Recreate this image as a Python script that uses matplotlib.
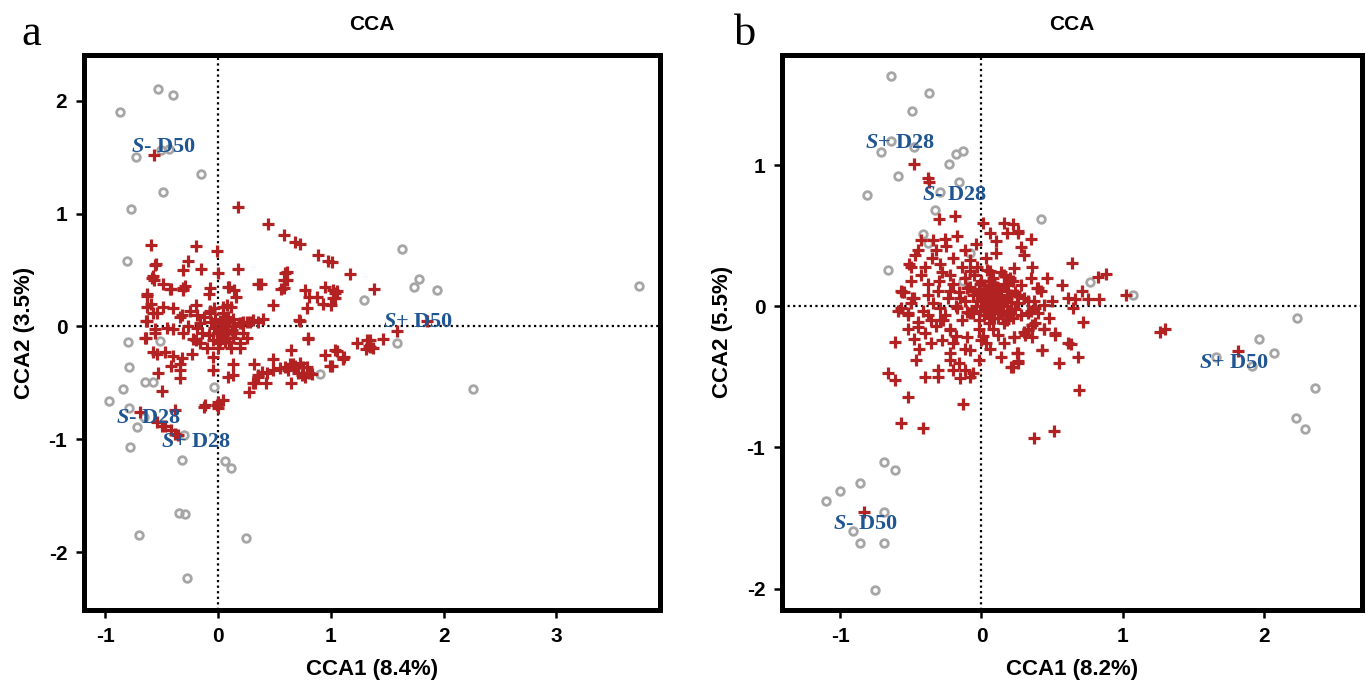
import matplotlib
matplotlib.use("Agg")
import matplotlib.pyplot as plt

plt.rcParams['font.family'] = ['Liberation Sans', 'DejaVu Sans']
plt.rcParams['mathtext.fontset'] = 'custom'
plt.rcParams['mathtext.bfit'] = 'Liberation Serif:italic:bold'
plt.rcParams['mathtext.bf'] = 'Liberation Serif:bold'
plt.rcParams['mathtext.rm'] = 'Liberation Serif'

# ---- panel a: site (gray circles) and species (red crosses) scores ----
a_sites_x = [-0.53, -0.40, -0.87, -0.73, -0.51, -0.44, -0.15, -0.49, -0.77, -0.81, 1.29,
             1.63, 1.78, 1.74, 1.94, 1.59, 2.26, 3.73, 0.90,
             -0.80, -0.52, -0.79, -0.65, -0.58, -0.84, -0.97, -0.79, -0.66, -0.72, -0.78,
             -0.30, -0.32, -0.04, 0.06, 0.11, -0.35, -0.29, -0.70, 0.25, -0.28]
a_sites_y = [2.10, 2.05, 1.90, 1.50, 1.56, 1.57, 1.35, 1.19, 1.04, 0.58, 0.23,
             0.69, 0.42, 0.35, 0.32, -0.15, -0.55, 0.36, -0.42,
             -0.14, -0.13, -0.36, -0.49, -0.49, -0.55, -0.66, -0.72, -0.80, -0.89, -1.07,
             -0.96, -1.18, -0.54, -1.19, -1.25, -1.65, -1.66, -1.85, -1.87, -2.23]

a_species = [
    (-0.57, 1.52), (0.18, 1.06), (0.44, 0.91), (0.58, 0.81), (0.68, 0.75), (0.73, 0.73),
    (0.89, 0.63), (0.97, 0.58), (1.17, 0.46), (1.38, 0.33),
    (-0.60, 0.72), (-0.20, 0.71), (-0.01, 0.67), (-0.55, 0.55), (-0.27, 0.58), (-0.31, 0.50),
    (-0.15, 0.51), (0.00, 0.47), (0.18, 0.51), (-0.59, 0.43), (-0.57, 0.41), (0.61, 0.48),
    (0.58, 0.41), (0.35, 0.38), (0.38, 0.38), (-0.49, 0.38), (-0.43, 0.33), (-0.29, 0.36),
    (-0.31, 0.32), (-0.07, 0.34), (-0.08, 0.29), (0.09, 0.35), (0.14, 0.32), (0.56, 0.33),
    (0.77, 0.32), (0.81, 0.26), (0.88, 0.26), (0.95, 0.35), (1.05, 0.31), (1.04, 0.25),
    (0.93, 0.20), (1.00, 0.19), (0.79, 0.16), (0.49, 0.19), (0.72, 0.06), (0.40, 0.07),
    (0.31, 0.06), (0.22, 0.04), (-0.63, 0.27), (-0.60, 0.20), (-0.54, 0.12), (-0.49, 0.17),
    (-0.40, 0.16), (-0.34, 0.08), (-0.25, 0.14), (-0.20, 0.19), (-0.13, 0.08), (-0.07, 0.12),
    (-0.04, 0.16), (0.04, 0.12), (0.08, 0.19), (0.13, 0.07), (0.02, 0.05), (-0.63, 0.05),
    (-0.56, 0.54), (-0.58, 0.45), (-0.42, 0.33), (-0.31, 0.34), (0.10, 0.35), (0.16, 0.26),
    (0.59, 0.47), (0.61, 0.41), (0.58, 0.34), (1.02, 0.32), (0.73, 0.05), (0.35, 0.04),
    (0.28, 0.04), (0.21, 0.03), (-0.63, 0.29), (-0.63, 0.17), (-0.58, 0.12), (-0.32, 0.10),
    (-0.19, 0.10), (-0.07, 0.14), (0.04, 0.17), (0.11, 0.17), (-0.64, 0.05), (-0.56, -0.02),
    (-0.45, -0.01), (-0.40, -0.02), (-0.27, 0.00), (-0.16, 0.03), (-0.04, -0.01), (0.04, -0.02),
    (-0.01, -0.06), (-0.05, -0.12), (0.02, -0.12), (0.08, -0.10), (0.13, -0.10), (0.19, -0.19),
    (0.26, -0.10), (0.11, -0.19), (0.00, -0.19), (-0.10, -0.19), (-0.16, -0.15), (-0.22, -0.11),
    (-0.31, -0.06), (-0.64, -0.10), (-0.58, -0.23), (-0.54, -0.24), (-0.47, -0.23), (-0.40, -0.26),
    (-0.32, -0.28), (-0.23, -0.24), (-0.42, -0.35), (-0.34, -0.33), (-0.34, -0.39), (-0.34, -0.46),
    (-0.53, -0.41), (-0.50, -0.57), (-0.05, -0.27), (-0.05, -0.39), (0.13, -0.33), (0.09, -0.45),
    (0.13, -0.43), (0.32, -0.33), (0.49, -0.29), (0.65, -0.21), (0.80, -0.10), (0.95, -0.25),
    (1.05, -0.22), (1.11, -0.28), (0.99, -0.35), (0.35, -0.43), (0.33, -0.50), (0.42, -0.50),
    (0.43, -0.41), (0.49, -0.39), (0.55, -0.37), (0.59, -0.36), (0.64, -0.33), (0.68, -0.35),
    (0.73, -0.32), (0.75, -0.36), (0.71, -0.41), (0.74, -0.43), (0.77, -0.45), (0.83, -0.42),
    (0.27, -0.58), (0.65, -0.50), (0.19, 0.03), (0.26, 0.04), (0.22, -0.06), (0.19, -0.15),
    (0.80, -0.11), (-0.65, -0.10), (-0.56, -0.06), (-0.20, -0.12), (-0.14, -0.06), (-0.19, -0.01),
    (0.39, -0.40), (0.62, -0.39), (0.66, -0.33), (0.79, -0.36), (0.81, -0.41), (0.35, -0.45),
    (0.31, -0.50), (1.23, -0.15), (1.32, -0.12), (1.35, -0.18), (1.59, -0.04), (1.46, -0.11),
    (1.35, -0.12), (1.34, -0.17), (1.37, -0.19), (1.31, -0.20), (1.04, -0.21), (1.12, -0.27),
    (1.11, -0.29), (1.01, -0.35), (1.85, 0.05), (-0.13, -0.71), (-0.01, -0.70), (0.04, -0.65),
    (0.00, -0.67), (0.00, -0.72), (-0.12, -0.70), (-0.69, -0.76), (-0.54, -0.85), (-0.50, -0.88),
    (-0.42, -0.92), (-0.38, -0.95), (-0.36, -0.96), (-0.38, -0.74), (-0.47, -0.88),
    (0.02, -0.04), (0.06, 0.00), (0.08, -0.05), (0.04, 0.03), (-0.02, 0.02), (0.10, 0.04),
    (0.12, -0.03), (0.06, -0.14), (-0.08, -0.08), (0.15, -0.06), (0.03, -0.10), (0.09, 0.08),
    (-0.03, 0.07), (1.01, 0.57), (1.04, 0.30), (1.02, 0.25),
    (0.05, -0.07), (0.10, -0.14), (0.01, -0.15), (0.07, 0.06), (-0.06, 0.04), (0.14, 0.00),
]

a_labels = [("$\\mathbfit{S}$- D50", -0.77, 1.59), ("$\\mathbfit{S}$+ D50", 1.46, 0.04),
            ("$\\mathbfit{S}$- D28", -0.91, -0.81), ("$\\mathbfit{S}$+ D28", -0.51, -1.02)]

# ---- panel b ----
b_sites_x = [-0.64, -0.37, -0.49, -0.64, -0.48, -0.71, -0.13, -0.18, -0.23, -0.59, -0.16,
             -0.81, -0.29, -0.33, -0.41, -0.38, -0.08, -0.66, -0.13, 0.42,
             0.77, 1.07, 2.23, 1.96, 2.07, 1.66, 1.91, 2.36, 2.22, 2.29,
             -0.69, -0.61, -0.86, -1.00, -1.10, -0.69, -0.91, -0.86, -0.69, -0.75]
b_sites_y = [1.63, 1.51, 1.38, 1.17, 1.13, 1.09, 1.10, 1.08, 1.01, 0.92, 0.88,
             0.79, 0.81, 0.68, 0.51, 0.45, 0.38, 0.26, 0.18, 0.62,
             0.17, 0.08, -0.08, -0.23, -0.33, -0.36, -0.42, -0.58, -0.79, -0.87,
             -1.10, -1.16, -1.25, -1.31, -1.38, -1.46, -1.59, -1.68, -1.68, -2.01]

b_species = [
    (-0.48, 1.01), (-0.38, 0.91), (-0.37, 0.88), (-0.30, 0.62), (-0.19, 0.64), (0.01, 0.59),
    (0.06, 0.52), (0.16, 0.59), (0.22, 0.58), (0.18, 0.52), (0.26, 0.52), (0.28, 0.42),
    (0.35, 0.48), (-0.34, 0.47), (-0.26, 0.48), (-0.17, 0.50), (-0.43, 0.47), (-0.45, 0.40),
    (-0.25, 0.43), (0.10, 0.38), (-0.51, 0.30), (-0.47, 0.36), (-0.35, 0.34), (-0.20, 0.34),
    (-0.08, 0.33), (0.03, 0.34), (-0.50, 0.28), (-0.43, 0.22), (-0.29, 0.30), (-0.28, 0.24),
    (-0.22, 0.22), (-0.08, 0.25), (-0.03, 0.28), (0.06, 0.25), (0.16, 0.22), (0.23, 0.27),
    (0.22, 0.18), (0.35, 0.20), (0.40, 0.13), (0.42, 0.11), (-0.50, 0.18), (-0.57, 0.11),
    (-0.55, 0.10), (-0.48, 0.06), (-0.38, 0.08), (-0.31, 0.11), (-0.22, 0.11), (-0.15, 0.06),
    (-0.10, 0.13), (-0.01, 0.16), (0.06, 0.18), (0.12, 0.13), (0.18, 0.15), (0.25, 0.08),
    (0.33, 0.04), (0.38, -0.01), (0.44, 0.01), (-0.57, -0.01), (-0.52, -0.05), (-0.41, -0.03),
    (-0.29, -0.01), (-0.17, -0.01), (-0.45, -0.11), (-0.36, -0.10), (-0.27, -0.10), (-0.08, -0.05),
    (-0.56, 0.10), (-0.49, 0.06), (-0.59, -0.03), (-0.52, -0.06), (-0.50, 0.02), (-0.38, -0.06),
    (-0.45, -0.15), (-0.52, -0.16), (-0.40, -0.19), (-0.29, -0.10), (-0.22, -0.17), (-0.18, -0.21),
    (-0.20, -0.26), (-0.08, -0.31), (-0.22, -0.33), (-0.22, -0.38), (-0.16, -0.40), (-0.20, -0.45),
    (-0.12, -0.45), (-0.15, -0.51), (-0.08, -0.50), (-0.06, -0.47), (-0.31, -0.45), (-0.31, -0.50),
    (-0.40, -0.50), (-0.61, -0.25), (-0.48, -0.23), (-0.66, -0.47), (-0.61, -0.52), (-0.52, -0.64),
    (-0.13, -0.69), (-0.57, -0.83), (-0.41, -0.86), (0.01, -0.21), (0.03, -0.26), (0.23, -0.22),
    (0.25, -0.33), (0.26, -0.39), (0.21, -0.43), (0.43, -0.31), (0.52, -0.19), (0.55, -0.40),
    (0.61, -0.26), (0.33, -0.16), (0.36, -0.22), (0.30, -0.18), (0.38, -0.12), (0.44, -0.16),
    (0.37, -0.01), (0.33, -0.05), (0.51, -0.88), (0.37, -0.93),
    (0.26, 0.53), (0.64, 0.31), (0.57, 0.15), (0.82, 0.21), (0.88, 0.23), (0.39, 0.13),
    (0.71, 0.11), (0.61, 0.06), (0.66, 0.05), (0.75, 0.05), (0.83, 0.05), (1.02, 0.08),
    (0.65, -0.01), (0.72, -0.11), (0.37, 0.04), (0.35, -0.03), (0.40, -0.05), (0.44, -0.16),
    (0.52, -0.20), (0.63, -0.27), (0.43, -0.31), (0.68, -0.36), (0.26, -0.33), (0.26, -0.40),
    (0.22, -0.43), (0.69, -0.59), (1.26, -0.18), (1.30, -0.16), (1.81, -0.32), (0.23, -0.22),
    (0.33, -0.17), (0.36, -0.13), (0.31, -0.20), (-0.83, -1.46),
    # dense core
    (0.00, 0.05), (0.05, 0.02), (0.10, 0.06), (0.15, 0.00), (0.08, -0.04), (0.02, -0.06),
    (-0.04, 0.00), (-0.06, 0.08), (0.03, 0.12), (0.12, 0.12), (0.18, 0.06), (0.20, -0.04),
    (0.12, -0.08), (0.05, -0.12), (-0.02, -0.10), (-0.10, -0.04), (-0.12, 0.04), (-0.08, 0.14),
    (0.00, 0.18), (0.08, 0.20), (0.16, 0.16), (0.24, 0.10), (0.26, 0.02), (0.22, -0.08),
    (0.16, -0.12), (0.08, -0.16), (-0.02, -0.16), (-0.14, -0.10), (-0.18, 0.00), (-0.16, 0.10),
    (-0.12, 0.20), (0.04, 0.26), (0.14, 0.24), (0.07, 0.08), (0.11, -0.02), (0.01, 0.00),
    (0.06, 0.04), (0.13, 0.03), (0.09, 0.10), (-0.03, 0.04), (0.03, -0.02), (0.17, -0.06),
    (0.28, -0.06), (0.30, 0.06), (-0.20, 0.16), (-0.24, 0.06), (-0.26, -0.06), (-0.22, -0.16),
    (-0.10, -0.22), (0.00, -0.24), (0.12, -0.20), (0.20, 0.20), (0.28, 0.15), (-0.05, 0.22),
    (-0.14, 0.28), (-0.30, 0.18), (-0.34, 0.02), (-0.32, -0.14), (-0.28, -0.24), (-0.12, -0.30),
    (0.06, -0.30), (0.16, -0.26), (0.10, -0.01), (0.14, 0.08), (0.04, 0.08), (-0.01, 0.10),
    (0.19, 0.11), (0.21, 0.03), (0.07, -0.08), (-0.06, -0.05), (0.09, 0.15), (0.02, 0.15),
    (-0.38, 0.16), (-0.40, 0.28), (-0.32, 0.40), (-0.12, 0.40), (-0.04, 0.44), (0.10, 0.46),
    (0.30, 0.36), (0.36, 0.28), (0.46, 0.20), (0.50, 0.04), (0.48, -0.08), (0.14, -0.36),
    (-0.02, -0.38), (-0.44, -0.30), (-0.36, -0.26), (-0.46, -0.38),
    (0.04, 0.01), (0.08, 0.02), (0.12, 0.05), (0.06, -0.02), (0.02, 0.08), (0.10, 0.10),
    (0.16, 0.04), (0.14, -0.04), (0.09, -0.08), (0.03, 0.04), (-0.01, -0.03), (0.18, 0.00),
    (0.11, 0.14), (0.05, 0.13), (-0.02, 0.12), (0.21, 0.08), (0.24, -0.02), (0.18, -0.10),
]

b_labels = [("$\\mathbfit{S}$+ D28", -0.82, 1.16), ("$\\mathbfit{S}$- D28", -0.42, 0.79),
            ("$\\mathbfit{S}$+ D50", 1.54, -0.40), ("$\\mathbfit{S}$- D50", -1.05, -1.54)]

fig = plt.figure(figsize=(13.66, 6.93), dpi=100)
ax_a = fig.add_axes([0.0615, 0.12, 0.4217, 0.80])
ax_b = fig.add_axes([0.5725, 0.12, 0.4246, 0.8006])


def draw_panel(ax, sx, sy, species, labels, xlim, ylim, xticks, yticks, xlab, ylab):
    ax.plot(sx, sy, 'o', ms=5.5, mfc='none', mec='#a6a6a6', mew=2.0, zorder=2)
    px = [p[0] for p in species]
    py = [p[1] for p in species]
    ax.plot(px, py, '+', ms=8, color='#b22222', mew=2.3, zorder=3)
    ax.axhline(0, color='black', ls=(0, (1, 1.5)), lw=1.6, zorder=1)
    ax.axvline(0, color='black', ls=(0, (1, 1.5)), lw=1.6, zorder=1)
    for txt, x, y in labels:
        ax.text(x, y, txt, color='#1f5592', fontsize=16, fontweight='bold',
                family='Liberation Serif', va='center', ha='left', zorder=5)
    ax.set_xlim(*xlim)
    ax.set_ylim(*ylim)
    ax.set_xticks(xticks)
    ax.set_yticks(yticks)
    ax.set_xticklabels([str(t) for t in xticks])
    ax.set_yticklabels([str(t) for t in yticks])
    for s in ax.spines.values():
        s.set_linewidth(3.6)
    ax.tick_params(direction='out', length=6, width=1.8, labelsize=15, pad=6)
    for lab in ax.get_xticklabels() + ax.get_yticklabels():
        lab.set_fontweight('bold')
    ax.set_xlabel(xlab, fontsize=16, fontweight='bold', labelpad=10)
    ax.set_ylabel(ylab, fontsize=16, fontweight='bold', labelpad=10)
    ax.set_title('CCA', fontsize=15, fontweight='bold', pad=18)


draw_panel(ax_a, a_sites_x, a_sites_y, a_species, a_labels, (-1.19, 3.92), (-2.51, 2.40),
           [-1, 0, 1, 2, 3], [-2, -1, 0, 1, 2], 'CCA1 (8.4%)', 'CCA2 (3.5%)')
draw_panel(ax_b, b_sites_x, b_sites_y, b_species, b_labels, (-1.41, 2.69), (-2.15, 1.78),
           [-1, 0, 1, 2], [-2, -1, 0, 1], 'CCA1 (8.2%)', 'CCA2 (5.5%)')

fig.text(0.016, 0.935, 'a', fontsize=32, family='Liberation Serif')
fig.text(0.537, 0.935, 'b', fontsize=32, family='Liberation Serif')

fig.savefig('out.png', dpi=100)
